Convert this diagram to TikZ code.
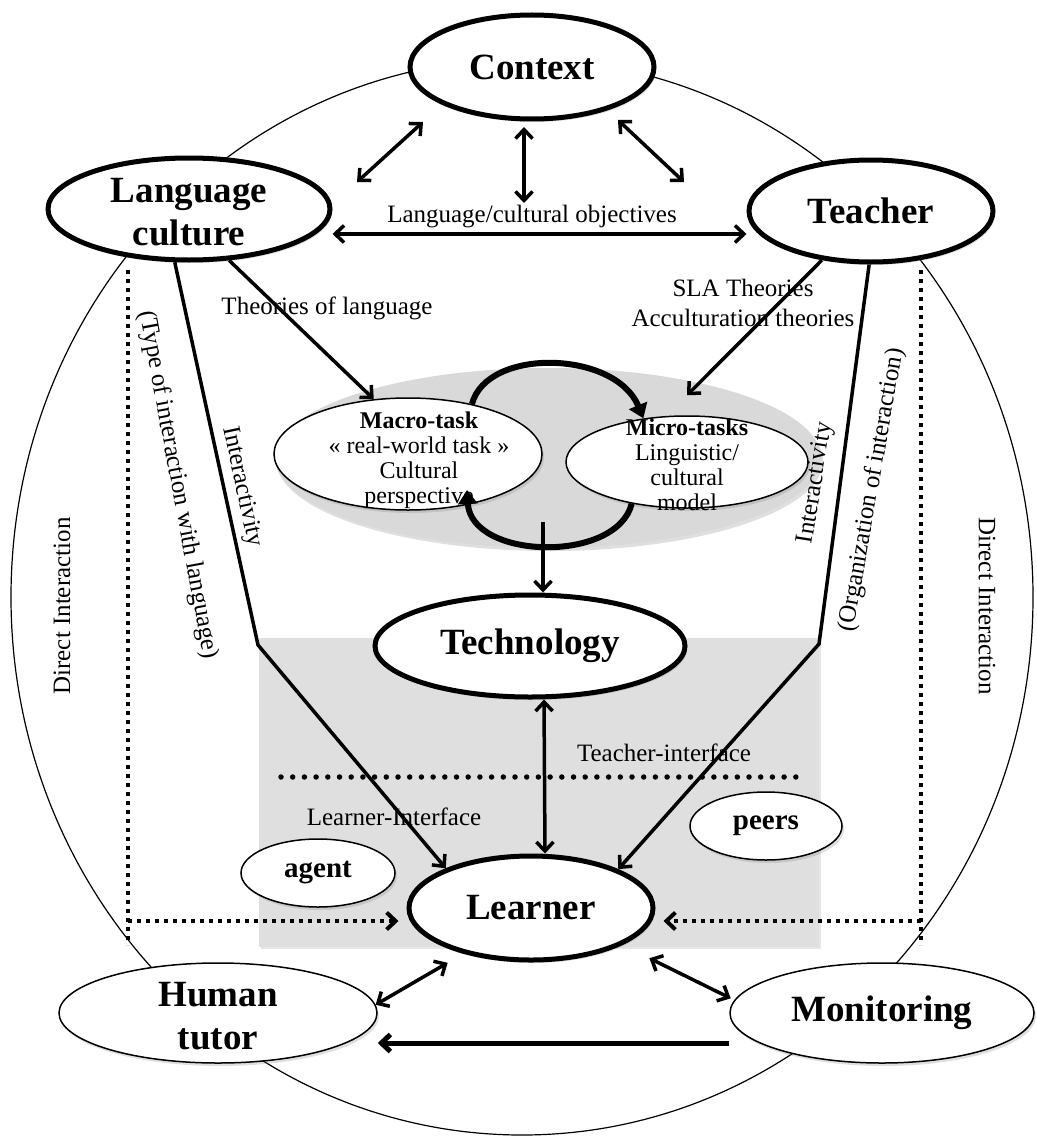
\documentclass[tikz,border=0pt]{standalone}
\usepackage{fontspec}
\setmainfont{Liberation Serif}
\usetikzlibrary{positioning,arrows.meta,shapes.geometric,shadows}
\tikzset{
softshadow/.style={drop shadow={opacity=.25, shadow xshift=2pt, shadow yshift=-3pt}},
big/.style={ellipse, draw, fill=white, line width=5pt, inner sep=0pt, softshadow},
small/.style={ellipse, draw, fill=white, line width=1.5pt, inner sep=0pt, softshadow},
bigtxt/.style={font=\fontsize{37}{43}\selectfont\bfseries, align=center},
midtxt/.style={font=\fontsize{29}{30}\selectfont\bfseries},
tasktxt/.style={font=\fontsize{24}{25}\selectfont, align=center},
txt/.style={font=\fontsize{25}{30}\selectfont, inner sep=1pt},
link/.style={line width=3.5pt},
curv/.style={line width=6pt, -{Triangle[length=14pt,width=19pt]}},
sqdots/.style={line width=4pt, dash pattern=on 4pt off 5pt},
rdots/.style={line width=5.5pt, line cap=round, dash pattern=on 0pt off 11.7pt}
}

\begin{document}
\begin{tikzpicture}[x=1pt,y=-1pt,>={Straight Barb[length=9pt,width=17pt]}]
\useasboundingbox (0,0) rectangle (1036,1137);
\draw[line width=1.2pt] (522,597) ellipse [x radius=511, y radius=538];
\fill[gray!25, drop shadow={opacity=.2, shadow xshift=2pt, shadow yshift=-2pt}] (259,638) rectangle (819,947);
\node[ellipse, fill=gray!30, minimum width=546, minimum height=180, softshadow] (tasks) at (548,458) {};

\node[big, minimum width=244, minimum height=104, label={[bigtxt]center:Context}] (ctx) at (532,67) {};
\node[big, minimum width=282, minimum height=102, label={[bigtxt, yshift=-3pt]center:Language\\culture}] (lang) at (189,209) {};
\node[big, minimum width=244, minimum height=102, label={[bigtxt]center:Teacher}] (teacher) at (871,211) {};
\node[small, minimum width=268, minimum height=112, label={[tasktxt, xshift=11pt, yshift=-6pt]center:{\bfseries Macro-task}\\« real-world task »\\Cultural\\perspective}] (macro) at (408,454) {};
\node[small, minimum width=242, minimum height=92, label={[tasktxt, yshift=-3pt]center:{\bfseries Micro-tasks}\\Linguistic/\\cultural\\model}] (micro) at (687,462) {};
\node[big, minimum width=310, minimum height=102, label={[bigtxt]center:Technology}] (tech) at (530,646) {};
\node[big, minimum width=244, minimum height=104, label={[bigtxt]center:Learner}] (learner) at (531,908) {};
\node[small, minimum width=154, minimum height=68, label={[midtxt]center:agent}] (agent) at (318,873) {};
\node[small, minimum width=152, minimum height=68, label={[midtxt]center:peers}] (peers) at (766,826) {};
\node[small, minimum width=318, minimum height=100, label={[bigtxt, yshift=-3pt]center:Human\\tutor}] (tutor) at (218,1013) {};
\node[small, minimum width=304, minimum height=100, label={[bigtxt]center:Monitoring}] (monitor) at (882,1013) {};

\node[txt] (objlbl) at (532,217) {Language/cultural objectives};
\node[txt] (thlbl) at (327,308) {Theories of language};
\node[txt, align=center] (slalbl) at (743,303) {SLA Theories\\Acculturation theories};
\node[txt] (tilbl) at (664,753) {Teacher-interface};
\node[txt] (lilbl) at (394,817) {Learner-Interface};
\node[txt, rotate=90] (dileft) at (62,606) {Direct Interaction};
\node[txt, rotate=-90] (diright) at (987,606) {Direct Interaction};
\node[txt, rotate=-78] (intleft) at (242,487) {Interactivity};
\node[txt, rotate=81] (intright) at (816,483) {Interactivity};
\node[txt, rotate=-79.5] (typelbl) at (178,485) {(Type of interaction with language)};
\node[txt, rotate=80] (orglbl) at (872,490) {(Organization of interaction)};

\coordinate (c1) at (423,122);
\coordinate (c2) at (357,182);
\coordinate (c3) at (524,127);
\coordinate (c4) at (524,203);
\coordinate (c5) at (618,120);
\coordinate (c6) at (684,182);
\draw[link, <->] (c1) -- (c2);
\draw[link, <->] (c3) -- (c4);
\draw[link, <->] (c5) -- (c6);
\draw[link, <->] ([yshift=-25pt]lang.east) -- ([yshift=-23pt]teacher.west);

\draw[link, ->] (lang.-52) -- (macro.122);
\draw[link, ->] (teacher.225) -- ([yshift=20pt]micro.north);
\draw[curv] (macro.38) .. controls +(15,-57) and +(-28,-68) .. (micro.135);
\draw[curv] (micro.217) .. controls +(-15,60) and +(4,70) .. ([xshift=59pt,yshift=-36pt]macro.center);

\coordinate (tk) at (543,522);
\draw[link, ->] (tk) -- (tk |- tech.north);
\draw[link, <->] ([xshift=14pt]tech.south) -- ([xshift=14pt]learner.north);

\coordinate (bl) at (258,645);
\coordinate (br) at (819,644);
\draw[link, ->] (lang.255) -- (bl) -- (learner.155);
\draw[link, ->] (teacher.268) -- (br) -- (learner.24);

\coordinate (mid1) at (281,777);
\coordinate (mid2) at (796,777);
\draw[rdots] (mid1) -- (mid2);

\coordinate (dl1) at (128,270);
\coordinate (dl2) at (128,945);
\coordinate (dh1) at (128,921);
\coordinate (dr1) at (921,270);
\coordinate (dr2) at (921,945);
\coordinate (dh2) at (921,921);
\draw[sqdots] (dl1) -- (dl2);
\draw[sqdots] (dr1) -- (dr2);
\draw[sqdots, ->, shorten >=8pt] (dh1) -- (dh1 -| learner.west);
\draw[sqdots, ->, shorten >=8pt] (dh2) -- (dh2 -| learner.east);

\draw[link, <->, shorten <=18pt] (learner.214) -- (tutor.3);
\draw[link, <->, shorten <=30pt, shorten >=4pt] (learner.-22) -- (monitor.175);
\draw[line width=5pt, ->] ([yshift=-30pt]monitor.west) -- ([yshift=-30pt]tutor.east);
\end{tikzpicture}
\end{document}
